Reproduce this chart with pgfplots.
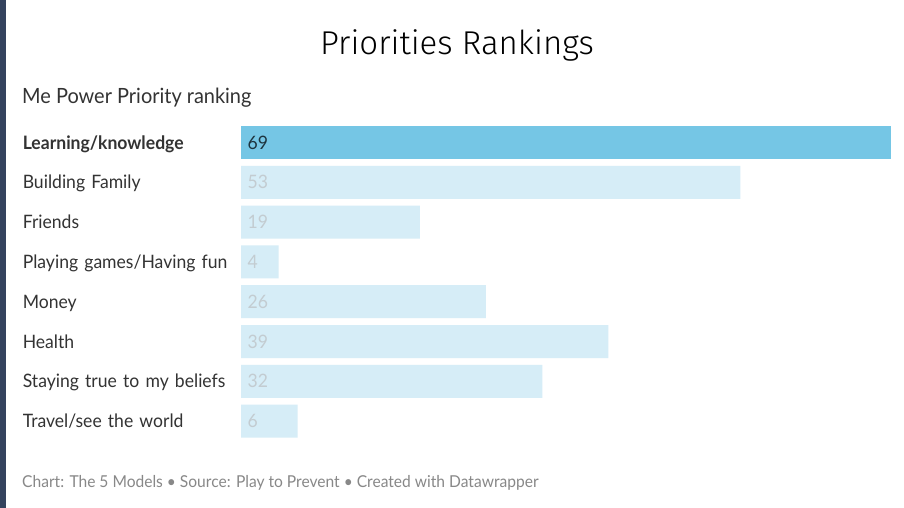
\documentclass[border=0pt]{standalone}
\usepackage{pgfplots}
\pgfplotsset{compat=1.18}
\usepackage{fontspec}
\setmainfont{Lato}[FakeStretch=0.95]
\newfontfamily\titlefont{Fira Sans}[UprightFont={* Light}]
\definecolor{hibar}{HTML}{75C6E5}
\definecolor{lobar}{HTML}{D6EDF7}
\definecolor{txt}{HTML}{333333}
\definecolor{hival}{HTML}{1E3540}
\definecolor{loval}{HTML}{C3CCD1}
\definecolor{foot}{HTML}{888888}
\definecolor{edge}{HTML}{34435E}
\begin{document}
\begin{tikzpicture}
\path[use as bounding box, fill=white] (0,0) rectangle (904bp,-508bp);
\fill[edge] (0,0) rectangle (6bp,-508bp);
\node[anchor=base, inner sep=0pt, font=\titlefont\fontsize{33bp}{38bp}\selectfont, text=black] at (457bp,-54bp) {Priorities Rankings};
\node[anchor=base west, inner sep=0pt, font=\fontsize{21bp}{24bp}\selectfont, text=txt] at (22bp,-103bp) {Me Power Priority ranking};
\node[anchor=base west, inner sep=0pt, font=\fontsize{16.4bp}{19bp}\selectfont, text=foot] at (22bp,-487bp) {Chart: The 5 Models \textbullet{} Source: Play to Prevent \textbullet{} Created with Datawrapper};
\begin{axis}[
  at={(241bp,-122.6bp)}, anchor=north west,
  scale only axis, width=650bp, height=318.4bp,
  xbar, bar width=33bp, bar shift=0pt,
  xmin=0, xmax=69, ymin=0.5, ymax=8.5, y dir=reverse,
  axis line style={draw=none}, tick style={draw=none},
  xtick=\empty,
  ytick={1,2,3,4,5,6,7,8},
  yticklabels={\textbf{Learning/knowledge},Building Family,Friends,Playing games/Having fun,Money,Health,Staying true to my beliefs,Travel/see the world},
  yticklabel style={anchor=east, text width=218bp, align=left, inner sep=0pt, text height=15.5bp, text depth=2.5bp, font=\fontsize{18.5bp}{21bp}\selectfont, text=txt},
  major tick length=0pt,
  clip=false,
]
\addplot[fill=hibar, draw=none, forget plot] coordinates {(69,1)};
\addplot[fill=lobar, draw=none, forget plot] coordinates {(53,2) (19,3) (4,4) (26,5) (39,6) (32,7) (6,8)};
\end{axis}
\begin{axis}[
  at={(241bp,-122.6bp)}, anchor=north west,
  scale only axis, width=650bp, height=318.4bp,
  xmin=0, xmax=69, ymin=0.5, ymax=8.5, y dir=reverse,
  hide axis, clip=false,
]
\addplot[only marks, mark=none, point meta=explicit symbolic, nodes near coords, nodes near coords style={anchor=west, xshift=6.5bp, inner sep=0pt, text height=15.5bp, text depth=2.5bp, font=\fontsize{18.5bp}{21bp}\selectfont, text=hival}] coordinates {(0,1) [69]};
\addplot[only marks, mark=none, point meta=explicit symbolic, nodes near coords, nodes near coords style={anchor=west, xshift=6.5bp, inner sep=0pt, text height=15.5bp, text depth=2.5bp, font=\fontsize{18.5bp}{21bp}\selectfont, text=loval}] coordinates {(0,2) [53] (0,3) [19] (0,4) [4] (0,5) [26] (0,6) [39] (0,7) [32] (0,8) [6]};
\end{axis}
\end{tikzpicture}
\end{document}
